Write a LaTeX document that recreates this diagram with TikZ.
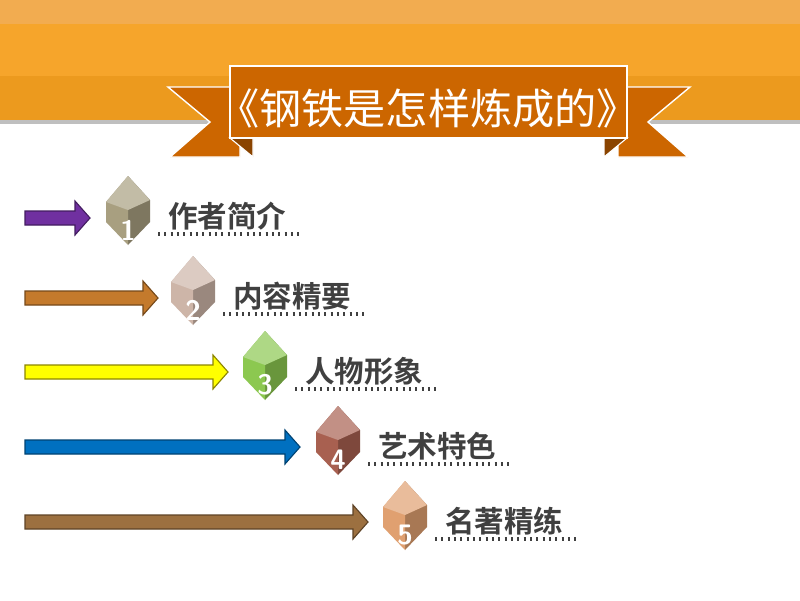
\documentclass[tikz,border=0pt]{standalone}
\usepackage{fontspec}
\usepackage{tikz}
\newfontfamily\cjk{Noto Sans CJK SC}
\newfontfamily\cjkb{Noto Sans CJK SC Bold}
\usetikzlibrary{positioning}
\definecolor{bandA}{HTML}{F2AC50}
\definecolor{bandB}{HTML}{F6A52B}
\definecolor{bandC}{HTML}{EC9A1E}
\definecolor{ribbon}{HTML}{CC6600}
\definecolor{ribdark}{HTML}{8A4400}
\definecolor{txtgray}{HTML}{404040}
\definecolor{arrA}{HTML}{7030A0}
\definecolor{arrB}{HTML}{C47A2C}
\definecolor{arrC}{HTML}{FFFF00}
\definecolor{arrD}{HTML}{0070C0}
\definecolor{arrE}{HTML}{9C7040}
\definecolor{gemA}{HTML}{A89F80}
\definecolor{gemB}{HTML}{CDB5A8}
\definecolor{gemC}{HTML}{8CC850}
\definecolor{gemD}{HTML}{A86050}
\definecolor{gemE}{HTML}{E0A070}
\tikzset{
  itemtext/.style={font=\cjkb\fontsize{21}{21}\selectfont, text=txtgray, anchor=west, inner sep=0pt},
  numtext/.style={font=\sffamily\bfseries\fontsize{20}{20}\selectfont, text=white, inner sep=0pt},
}
% arrow: #1 colour, #2 border, #3 y, #4 tip x
\newcommand{\itemarrow}[4]{%
  \filldraw[fill=#1, draw=#2, line width=0.8pt]
    (25,#3-7) -- (#4-15,#3-7) -- (#4-15,#3-17) -- (#4,#3) -- (#4-15,#3+17)
    -- (#4-15,#3+7) -- (25,#3+7) -- cycle;}
% gem: #1 colour, #2 centre x, #3 centre y
\newcommand{\gem}[3]{%
  \fill[#1!75!black] (#2,#3-36) -- (#2+22,#3-12) -- (#2+22,#3+10) -- (#2,#3+33) -- cycle;
  \fill[#1] (#2,#3-36) -- (#2-22,#3-10) -- (#2-22,#3+10) -- (#2,#3+33) -- cycle;
  \fill[#1!70!white] (#2,#3-36) -- (#2-22,#3-10) -- (#2,#3-2) -- (#2+22,#3-12) -- cycle;}
\begin{document}
\begin{tikzpicture}[x=0.025cm, y=-0.025cm]
  \useasboundingbox (0,0) rectangle (800,600);
  \fill[white] (0,0) rectangle (800,600);
  %header bands
  \fill[gray!50] (0,118) rectangle (800,124);
  \fill[bandA] (0,0) rectangle (800,24);
  \fill[bandB] (0,24) rectangle (800,76);
  \fill[bandC] (0,76) rectangle (800,120);
  %ribbon
  \filldraw[fill=ribbon, draw=white, line width=1pt]
    (168,87) -- (240,87) -- (240,157) -- (170,157) -- (210,122) -- cycle;
  \filldraw[fill=ribbon, draw=white, line width=1pt]
    (690,87) -- (618,87) -- (618,157) -- (688,157) -- (648,122) -- cycle;
  \filldraw[fill=ribdark, draw=white, line width=0.8pt] (230,138) -- (253,138) -- (253,157) -- cycle;
  \filldraw[fill=ribdark, draw=white, line width=0.8pt] (627,138) -- (604,138) -- (604,157) -- cycle;
  \filldraw[fill=ribbon, draw=white, line width=1.2pt] (230,66) rectangle (627,138);
  \node[font=\cjk\fontsize{30}{30}\selectfont, text=white] (title) at (428,108) {《钢铁是怎样炼成的》};
  %arrows
  \itemarrow{arrA}{arrA!60!black}{218}{90}
  \itemarrow{arrB}{arrB!60!black}{298}{158}
  \itemarrow{arrC}{olive}{372}{228}
  \itemarrow{arrD}{arrD!60!black}{447}{300}
  \itemarrow{arrE}{arrE!60!black}{522}{368}
  %gems
  \gem{gemA}{128}{212}
  \gem{gemB}{193}{292}
  \gem{gemC}{265}{367}
  \gem{gemD}{338}{442}
  \gem{gemE}{405}{517}
  %labels
  \foreach \n/\x/\y/\t in {1/128/230/作者简介, 2/193/310/内容精要, 3/265/385/人物形象, 4/338/460/艺术特色, 5/405/535/名著精练}{
    \node[numtext] (num\n) at (\x,\y) {\n};
    \node[itemtext] (item\n) at (\x+40,\y-14) {\t};
    \draw[txtgray, line width=2.2pt, dash pattern=on 1.5pt off 3pt] (\x+30,\y+4) -- (\x+172,\y+4);
  }
\end{tikzpicture}
\end{document}
